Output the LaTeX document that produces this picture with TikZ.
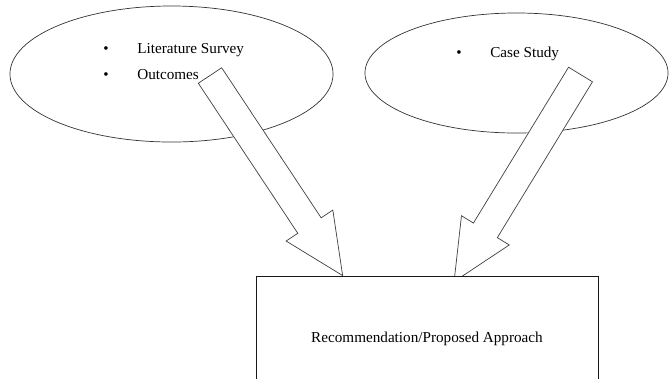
\documentclass[tikz,border=0pt]{standalone}
\usepackage{fontspec}
\setmainfont{Liberation Serif}
\usepackage{tikz}
\usetikzlibrary{shapes,calc,positioning}
\pgfdeclarelayer{front}
\pgfsetlayers{main,front}
\newcommand{\shaftw}{0.35cm}
\newcommand{\headw}{0.7cm}
\newcommand{\headl}{1.5cm}
\newcommand{\blockarrow}[2]{%
  \draw[bigarrow] ($(#1)!\shaftw!90:(#2)$)
    -- ($(#2)!\headl!(#1)!\shaftw!90:(#2)$)
    -- ($(#2)!\headl!(#1)!\headw!90:(#2)$)
    -- (#2)
    -- ($(#2)!\headl!(#1)!\headw!-90:(#2)$)
    -- ($(#2)!\headl!(#1)!\shaftw!-90:(#2)$)
    -- ($(#1)!\shaftw!-90:(#2)$) -- cycle;
}
\begin{document}
\begin{tikzpicture}[x=0.025cm,y=-0.025cm,
  topic/.style={ellipse,draw=black!80,line width=0.5pt,inner sep=0pt},
  bullets/.style={anchor=west,inner sep=0pt,font=\fontsize{10.8}{13}\selectfont},
  bigarrow/.style={draw=black!75,line width=0.5pt,fill=white,line join=miter},
  result/.style={rectangle,draw=black!90,line width=0.6pt,fill=white,
                 minimum width=8.55cm,minimum height=3.15cm,
                 font=\fontsize{10.8}{13}\selectfont}
]
\useasboundingbox (0,0) rectangle (669,378);
\clip (0,0) rectangle (669,378);
% Ellipses
\node[topic,minimum width=8.075cm,minimum height=3.4cm] (lit) at (171.5,74) {};
\node[topic,minimum width=7.575cm,minimum height=3cm] (case) at (516.5,73) {};
% Lists
\node[bullets] (litlist) at (103,63) {%
  \begin{tabular}{@{}p{0.85cm}@{}l@{}}
    \textbullet & Literature Survey\\[5.5pt]
    \textbullet & Outcomes
  \end{tabular}};
\node[bullets] (caselist) at (456,54) {%
  \begin{tabular}{@{}p{0.85cm}@{}l@{}}
    \textbullet & Case Study
  \end{tabular}};
% Result box
\begin{pgfonlayer}{front}
\node[result] (rec) at (427,339) {Recommendation/Proposed Approach};
\end{pgfonlayer}
% Block arrows
\coordinate (litTail) at (210,75.5);
\coordinate (caseTail) at (580.5,74.5);
\coordinate (litTip) at ($(rec.north west)!0.254!(rec.north east)$);
\coordinate (caseTip) at ($(rec.north west)!0.579!(rec.north east)+(0,6)$);
\blockarrow{litTail}{litTip}
\blockarrow{caseTail}{caseTip}
\end{tikzpicture}
\end{document}
